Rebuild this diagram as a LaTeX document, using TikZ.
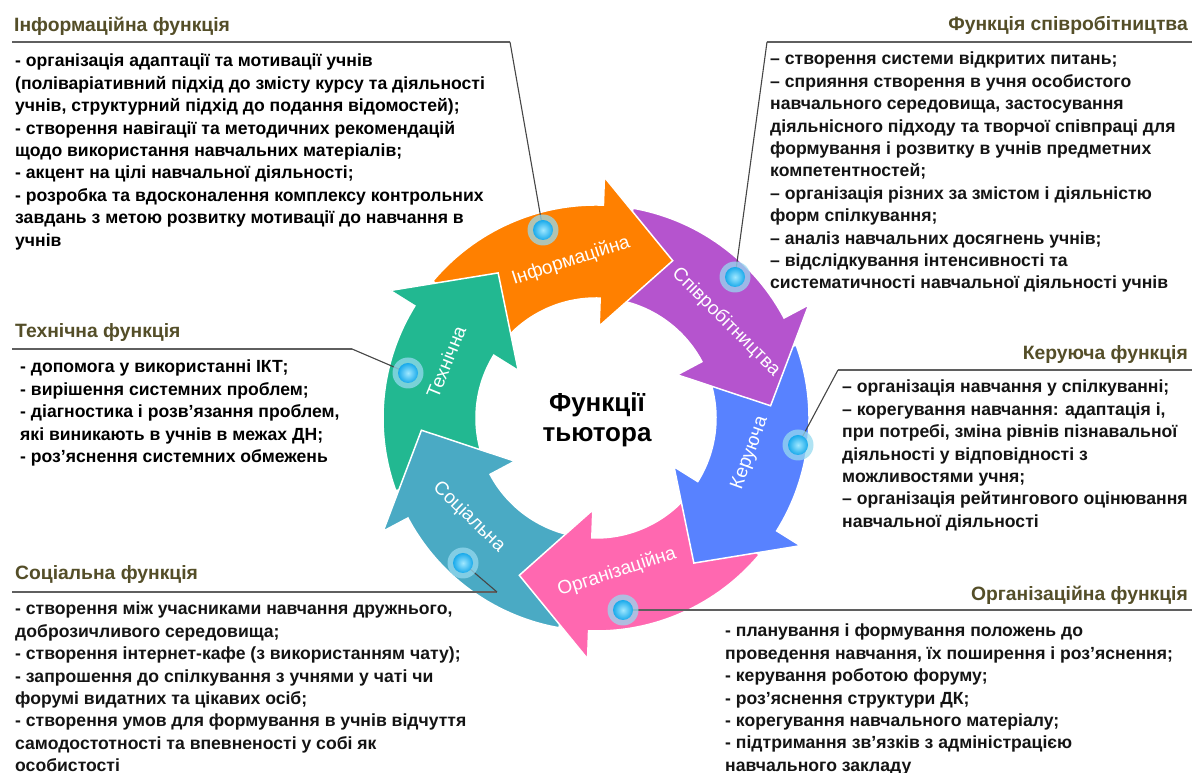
\documentclass[tikz,border=0pt]{standalone}
\usepackage{fontspec}
\setmainfont{Liberation Sans}
\definecolor{corange}{RGB}{255,128,0}
\definecolor{cpurple}{RGB}{181,84,206}
\definecolor{cblue}{RGB}{88,130,255}
\definecolor{cpink}{RGB}{255,104,176}
\definecolor{cteal}{RGB}{74,170,196}
\definecolor{cgreen}{RGB}{34,184,145}
\definecolor{headcol}{RGB}{84,78,40}
\definecolor{halocol}{RGB}{150,218,240}
\definecolor{ballcol}{RGB}{25,170,235}
\definecolor{ballin}{RGB}{160,232,255}
\definecolor{linecol}{RGB}{70,70,70}
\definecolor{rulecol}{RGB}{95,95,95}
\definecolor{bodycol}{RGB}{20,20,20}
\newcommand\ringarrow[2]{%
  \pgfmathsetmacro\tailang{#1+76}\pgfmathsetmacro\baseang{#1+24}%
  \fill[#2,draw=white,line width=1.5pt,line join=miter]
    (\tailang:213pt) arc[start angle=\tailang,end angle=\baseang,radius=213pt]
    -- (\baseang:241pt) -- (#1:175pt) -- (\baseang:92pt) -- (\baseang:120pt)
    arc[start angle=\baseang,end angle=\tailang,radius=120pt] -- cycle;}
\tikzset{
  headtext/.style={font=\fontsize{19.3}{22}\selectfont\bfseries,text=headcol,inner sep=0pt},
  bodytext/.style={font=\fontsize{17.6}{22.4}\selectfont\bfseries,text=bodycol,align=left,anchor=north west,inner sep=0pt},
  arrowlabel/.style={font=\fontsize{19}{19}\selectfont,text=white,inner sep=0pt},
  rulestyle/.style={draw=rulecol,line width=1.8pt},
  conn/.style={draw=linecol,line width=1.1pt},
  halo/.style={circle,minimum size=31pt,inner sep=0pt,fill=halocol,fill opacity=0.75},
  dot/.style={circle,minimum size=20pt,inner sep=0pt,shading=radial,inner color=ballin,outer color=ballcol}
}
\begin{document}
\begin{tikzpicture}[x=1pt,y=1pt]
\useasboundingbox (0,0) rectangle (1192,773);
\fill[white] (0,0) rectangle (1192,773);
% ring
\begin{scope}[shift={(596,355)}]
  \ringarrow{124}{cgreen}
  \ringarrow{184}{cteal}
  \ringarrow{244}{cpink}
  \ringarrow{304}{cblue}
  \ringarrow{4}{cpurple}
  \ringarrow{64}{corange}
  \fill[cgreen] (148:241pt) -- (124:175pt) -- (148:92pt) -- cycle;
  \draw[white,line width=1.5pt,line join=miter] (148:241pt) -- (124:175pt) -- (148:92pt);
\end{scope}
% arrow labels
\node[arrowlabel,rotate=18] (lInfo) at (571,512) {Інформаційна};
\node[arrowlabel,rotate=-45] (lSpiv) at (726,451) {Співробітництва};
\node[arrowlabel,rotate=70] (lKer) at (750,320) {Керуюча};
\node[arrowlabel,rotate=18] (lOrg) at (617,201) {Організаційна};
\node[arrowlabel,rotate=-44] (lSoc) at (469,256) {Соціальна};
\node[arrowlabel,rotate=68] (lTech) at (446,411) {Технічна};
% title
\node[font=\fontsize{26}{30}\selectfont\bfseries,align=center] (title) at (597,353) {Функції\\тьютора};
% corner coordinates
\coordinate (c1) at (510,731);
\coordinate (a1) at (12,731);
\coordinate (c2) at (767,731);
\coordinate (a2) at (1192,731);
\coordinate (c3) at (838,403);
\coordinate (a3) at (1192,403);
\coordinate (a4) at (1192,163);
\coordinate (c5) at (497,181);
\coordinate (a5) at (12,181);
\coordinate (c6) at (352,424);
\coordinate (a6) at (12,424);
% dot positions
\path (543,543) coordinate (p1) (735,496) coordinate (p2) (798,328) coordinate (p3)
      (623,163) coordinate (p4) (463,210) coordinate (p5) (408,400) coordinate (p6);
% rules and connectors
\draw[rulestyle] (a1) -- (c1);
\draw[rulestyle] (c2) -- (a2);
\draw[rulestyle] (c3) -- (a3);
\draw[rulestyle] (a5) -- (c5);
\draw[rulestyle] (a6) -- (c6);
\draw[conn] (c1) -- (p1);
\draw[conn] (c2) -- (p2);
\draw[conn] (c3) -- (p3);
\draw[conn] (c5) -- (p5);
\draw[conn] (c6) -- (p6);
\draw[rulestyle] (p4) -- (a4);
% dots
\foreach \i in {1,...,6}{\node[halo] (g\i) at (p\i) {};}
\node[dot] (d1) at (p1) {};
\node[dot] (d2) at (p2) {};
\node[dot] (d3) at (p3) {};
\node[dot] (d4) at (p4) {};
\node[dot] (d5) at (p5) {};
\node[dot] (d6) at (p6) {};
% headings
\node[headtext,anchor=west] (h1) at (14,747) {Інформаційна функція};
\node[headtext,anchor=east] (h2) at (1188,748) {Функція співробітництва};
\node[headtext,anchor=east] (h3) at (1188,418) {Керуюча функція};
\node[headtext,anchor=east] (h4) at (1188,178) {Організаційна функція};
\node[headtext,anchor=west] (h5) at (15,198) {Соціальна функція};
\node[headtext,anchor=west] (h6) at (15,440) {Технічна функція};
% bodies
\node[bodytext,text=black] (b1) at (15,719) {- організація адаптації та мотивації учнів\\(поліваріативний підхід до змісту курсу та діяльності\\учнів, структурний підхід до подання відомостей);\\- створення навігації та методичних рекомендацій\\щодо використання навчальних матеріалів;\\- акцент на цілі навчальної діяльності;\\- розробка та вдосконалення комплексу контрольних\\завдань з метою розвитку мотивації до навчання в\\учнів};
\node[bodytext] (b2) at (770,721) {– створення системи відкритих питань;\\– сприяння створення в учня особистого\\навчального середовища, застосування\\діяльнісного підходу та творчої співпраці для\\формування і розвитку в учнів предметних\\компетентностей;\\– організація різних за змістом і діяльністю\\форм спілкування;\\– аналіз навчальних досягнень учнів;\\– відслідкування інтенсивності та\\систематичності навчальної діяльності учнів};
\node[bodytext] (b3) at (842,393) {– організація навчання у спілкуванні;\\– корегування навчання: адаптація і,\\при потребі, зміна рівнів пізнавальної\\діяльності у відповідності з\\можливостями учня;\\– організація рейтингового оцінювання\\навчальної діяльності};
\node[bodytext] (b4) at (725,149) {- планування і формування положень до\\проведення навчання, їх поширення і роз'яснення;\\- керування роботою форуму;\\- роз'яснення структури ДК;\\- корегування навчального матеріалу;\\- підтримання зв'язків з адміністрацією\\навчального закладу};
\node[bodytext] (b5) at (15,171) {- створення між учасниками навчання дружнього,\\доброзичливого середовища;\\- створення інтернет-кафе (з використанням чату);\\- запрошення до спілкування з учнями у чаті чи\\форумі видатних та цікавих осіб;\\- створення умов для формування в учнів відчуття\\самодостотності та впевненості у собі як\\особистості};
\node[bodytext,text=black] (b6) at (20,413) {- допомога у використанні ІКТ;\\- вирішення системних проблем;\\- діагностика і розв'язання проблем,\\які виникають в учнів в межах ДН;\\- роз'яснення системних обмежень};
\end{tikzpicture}
\end{document}
